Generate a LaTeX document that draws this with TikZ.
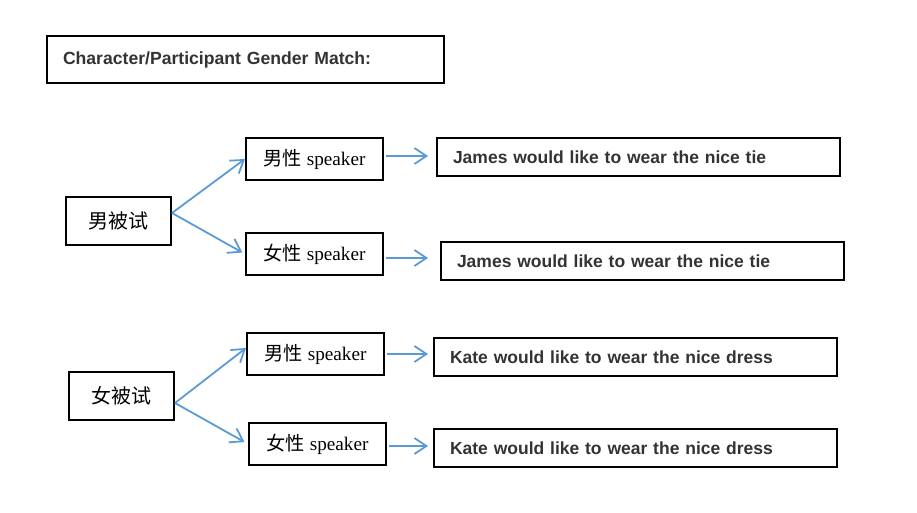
\documentclass[tikz,border=0pt]{standalone}
\usepackage{fontspec}
\setmainfont{Liberation Serif}
\newfontfamily\arialfont{Liberation Sans}
\newfontfamily\cjk{Noto Sans CJK SC}
\usetikzlibrary{positioning, arrows.meta}
\definecolor{arrowBlue}{RGB}{91, 155, 213}
\definecolor{textGray}{RGB}{51, 51, 51}

\begin{document}
\begin{tikzpicture}[
      x=1pt, y=1pt,
      box/.style={rectangle, draw=black, line width=2pt, inner sep=0pt},
      titlebox/.style={box, text width=365pt, inner xsep=16pt, minimum height=47pt, align=left, text=textGray, font=\arialfont\bfseries\fontsize{17.6}{21}\selectfont},
      sentence/.style={box, text width=371pt, inner xsep=16pt, minimum height=38pt, align=left, text=textGray, font=\arialfont\bfseries\fontsize{17.5}{21}\selectfont},
      subject/.style={box, minimum width=105pt, minimum height=48pt, font=\cjk\fontsize{20}{24}\selectfont},
      speaker/.style={box, minimum width=137pt, minimum height=42pt, font=\fontsize{19.2}{22}\selectfont},
      arrow/.style={-{Straight Barb[length=12pt, width=16pt, line width=1.8pt]}, line width=1.8pt, arrowBlue}
    ]
      \useasboundingbox (0,0) rectangle (917,-513);
      % 标题
      \node[titlebox] (title) at (245.5,-59.5) {Character/Participant Gender Match:};

      % 男被试分支
      \node[subject, below=112pt of title.south west, anchor=north west, xshift=19pt] (m) {男被试};
      \node[speaker, right=73pt of m.east, yshift=62pt] (mm) {{\cjk 男性} speaker};
      \node[speaker, right=73pt of m.east, yshift=-33pt] (mf) {{\cjk 女性} speaker};
      \node[sentence, right=52pt of mm.east, yshift=2pt] (j1) {James would like to wear the nice tie};
      \node[sentence, right=56pt of mf.east, yshift=-7pt] (j2) {James would like to wear the nice tie};

      % 女被试分支
      \node[subject, below=125pt of m.south west, anchor=north west, xshift=3pt] (f) {女被试};
      \node[speaker, right=71pt of f.east, yshift=42pt] (fm) {{\cjk 男性} speaker};
      \node[speaker, right=73pt of f.east, yshift=-48pt] (ff) {{\cjk 女性} speaker};
      \node[sentence, right=48pt of fm.east, yshift=-3pt] (k1) {Kate would like to wear the nice dress};
      \node[sentence, right=46pt of ff.east, yshift=-4pt] (k2) {Kate would like to wear the nice dress};

      \draw[arrow] ([yshift=8pt]m.east) -- (mm.west);
      \draw[arrow, shorten >=3pt] ([yshift=8pt]m.east) -- (mf.west);
      \draw[arrow] ([yshift=-7pt]f.east) -- ([yshift=6pt]fm.west);
      \draw[arrow, shorten >=4pt] ([yshift=-7pt]f.east) -- (ff.west);

      \draw[arrow, shorten <=2pt, shorten >=8pt] ([yshift=3pt]mm.east) -- ([yshift=3pt]mm.east -| j1.west);
      \draw[arrow, shorten <=2pt, shorten >=12pt] ([yshift=-4pt]mf.east) -- ([yshift=-4pt]mf.east -| j2.west);
      \draw[arrow, shorten <=2pt, shorten >=5pt] (fm.east) -- (fm.east -| k1.west);
      \draw[arrow, shorten <=2pt, shorten >=5pt] ([yshift=-2pt]ff.east) -- ([yshift=-2pt]ff.east -| k2.west);
    \end{tikzpicture}
\end{document}
